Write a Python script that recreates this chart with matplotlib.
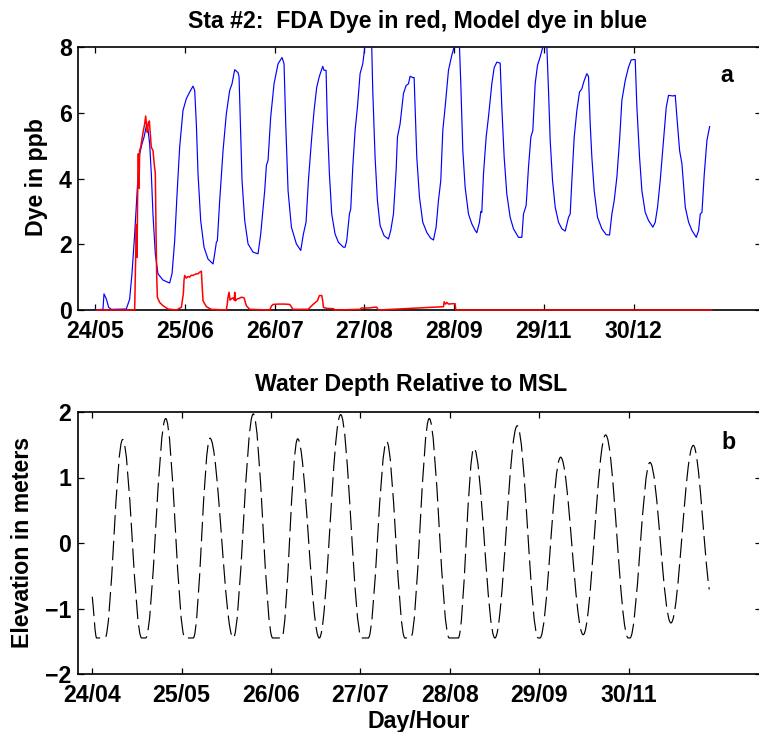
import matplotlib
matplotlib.use("Agg")
import matplotlib.pyplot as plt
from matplotlib.path import Path
from matplotlib.patches import PathPatch

# ---------------- data (hours after first tick) ----------------
blue_hours = [-0.7, 2.14, 2.42, 3.07, 3.72, 4.46, 8.64, 9.57, 10.22, 10.97, 11.71, 12.36, 13.01, 13.57,
              14.22, 14.68, 15.15, 15.61, 16.08, 16.73, 17.47, 18.87, 20.72, 21.38, 22.12, 22.77, 23.51,
              24.44, 25.37, 26.30, 27.23, 27.70, 28.16, 28.63, 29.37, 30.30, 31.41, 32.81, 33.27, 33.74,
              34.02, 34.67, 35.60, 36.52, 37.45, 38.10, 38.85, 39.78, 40.06, 40.43, 40.89, 41.64, 42.57,
              43.96, 45.35, 46.10, 47.21, 47.68, 48.14, 48.88, 49.81, 50.93, 52.04, 52.60, 53.07, 53.72,
              54.65, 56.04, 57.25, 57.99, 58.73, 59.39, 60.32, 60.97, 61.71, 62.45, 63.38, 63.75, 64.31,
              64.68, 65.24, 65.89, 66.82, 67.75, 69.14, 69.61, 70.07, 70.82, 71.19, 71.75, 72.40, 73.05,
              73.79, 74.54, 75.00, 75.28, 76.02, 76.77, 77.04, 77.32, 77.97, 78.62, 79.37, 80.48, 81.69,
              82.34, 83.09, 83.83, 84.20, 84.94, 85.87, 86.62, 87.27, 87.73, 88.48, 88.85, 89.13, 89.59,
              90.34, 91.26, 92.38, 93.49, 94.24, 94.98, 95.63, 96.28, 96.84, 97.49, 98.42, 99.35, 100.00,
              100.56, 101.12, 101.49, 101.86, 102.42, 103.07, 104.00, 104.93, 105.86, 106.32, 107.06,
              107.43, 107.71, 108.18, 108.92, 109.57, 110.50, 111.15, 111.90, 112.83, 113.29, 113.94,
              114.68, 115.61, 116.54, 117.94, 118.87, 119.33, 120.07, 120.72, 121.38, 121.93, 122.58,
              123.23, 123.98, 124.72, 125.28, 125.84, 126.30, 126.77, 127.42, 128.16, 129.09, 130.02,
              130.95, 131.88, 132.34, 132.81, 133.46, 134.20, 134.94, 135.59, 136.25, 136.99, 137.45,
              137.92, 138.38, 139.03, 139.96, 141.17, 142.38, 143.31, 143.96, 144.61, 145.35, 146.10,
              146.75, 147.68, 148.61, 149.35, 150.46, 150.93, 151.67, 152.32, 153.25, 154.18, 155.39,
              156.04, 156.69, 157.43, 158.36, 159.11, 159.76, 160.97, 161.62, 162.08, 162.83, 163.48,
              164.41, 165.34, 166.27, 167.48, 168.13, 168.59, 169.06, 169.71, 170.45, 171.20]
blue_ppb = [0.0, 0.02, 0.49, 0.34, 0.08, 0.02, 0.03, 0.33, 1.1, 2.3, 3.7, 4.75, 5.05, 5.25,
            5.6, 5.5, 5.05, 4.15, 2.9, 1.7, 1.1, 0.91, 0.82, 1.1, 2.1, 3.5, 4.95,
            6.07, 6.43, 6.63, 6.81, 6.68, 5.66, 4.14, 2.72, 1.91, 1.55, 1.40, 1.71, 2.06,
            2.11, 3.33, 4.85, 5.97, 6.68, 6.88, 7.31, 7.22, 7.1, 5.66, 3.94, 2.72, 2.01,
            1.76, 1.71, 2.31, 3.63, 4.40, 4.55, 5.87, 6.88, 7.49, 7.68, 7.49, 5.66, 3.63,
            2.52, 2.01, 1.81, 2.31, 2.67, 3.94, 5.26, 6.07, 6.78, 7.11, 7.41, 7.29, 7.29,
            5.66, 4.14, 2.92, 2.31, 2.06, 1.91, 1.91, 2.11, 2.92, 3.08, 4.34, 5.46, 6.17,
            7.19, 7.49, 7.9, 8.3, 8.6, 8.4, 8.0, 6.68, 4.65, 3.33, 2.57, 2.26, 2.16,
            2.42, 2.92, 4.24, 5.26, 5.66, 6.58, 6.83, 6.88, 7.11, 7.07, 7.07, 6.17, 4.65,
            3.43, 2.67, 2.36, 2.18, 2.13, 2.52, 3.33, 3.94, 5.46, 6.17, 7.29, 7.75, 8.0,
            8.4, 8.4, 8.0, 6.88, 4.85, 3.73, 2.92, 2.62, 2.42, 2.35, 2.67,
            3.0, 2.97, 4.14, 5.26, 5.87, 6.88, 7.37, 7.54, 7.51, 6.17, 4.65,
            3.53, 2.82, 2.47, 2.21, 2.21, 2.92, 3.18, 4.34, 5.26, 5.46, 6.88,
            7.44, 7.70, 8.0, 8.3, 8.0, 6.68, 5.16, 3.94, 3.13, 2.67, 2.47,
            2.40, 2.82, 2.92, 3.94, 5.26, 6.07, 6.63, 6.73, 6.98, 7.19, 7.1,
            5.66, 4.65, 3.63, 2.82, 2.47, 2.29, 2.28, 2.92, 3.33, 4.04, 5.16,
            6.38, 6.98, 7.39, 7.61, 7.62, 6.17, 4.65, 3.63, 2.97, 2.72, 2.52,
            2.67, 3.13, 3.94, 5.16, 6.17, 6.53, 6.51, 6.53, 5.87, 4.85, 4.45,
            3.13, 2.67, 2.42, 2.21, 2.42, 2.92, 2.97, 4.14, 5.16, 5.58]

red_hours = [0.2, 10.97, 11.25, 11.43, 11.62, 11.80, 11.99, 12.18, 12.36, 12.64, 13.01, 13.38, 13.75,
             14.03, 14.31, 14.50, 14.78, 15.06, 15.33, 15.61, 16.08, 16.36, 16.73, 16.91, 17.10, 17.29,
             17.94, 18.87, 20.26, 22.58, 23.98, 24.54, 24.72, 24.91, 25.37, 25.84, 26.30, 26.77, 27.23,
             27.70, 28.16, 28.63, 29.09, 29.56, 29.74, 30.02, 30.95, 32.34, 36.52, 36.80, 36.99, 37.27,
             37.55, 37.92, 38.38, 38.76, 38.85, 39.03, 39.59, 40.24, 40.71, 41.45, 42.10, 43.03, 48.61,
             49.07, 49.54, 50.93, 52.79, 54.18, 55.11, 59.30, 59.85, 60.78, 61.90, 62.45, 63.11, 63.38,
             63.57, 64.50, 66.36, 66.82, 73.79, 74.16, 76.02, 78.35, 78.91, 97.03, 97.22, 97.59, 97.96,
             98.42, 99.35, 100.28, 100.47, 171.8]
red_ppb = [0.0, 0.0, 1.6, 2.6, 1.6, 3.5, 4.75, 3.7, 4.85, 4.95, 5.2, 5.45, 5.65,
           5.9, 5.6, 5.4, 5.7, 5.75, 5.35, 4.95, 4.85, 4.5, 4.15, 2.5, 1.1, 0.39,
           0.23, 0.13, 0.03, 0.0, 0.08, 0.5, 0.9, 1.05, 0.97, 1.02, 1.0, 1.06, 1.05,
           1.08, 1.1, 1.1, 1.15, 1.18, 0.8, 0.28, 0.1, 0.02, 0.0, 0.2, 0.39, 0.54,
           0.3, 0.34, 0.37, 0.3, 0.54, 0.28, 0.34, 0.36, 0.39, 0.37, 0.13, 0.02, 0.0,
           0.12, 0.17, 0.18, 0.18, 0.17, 0.02, 0.02, 0.08, 0.18, 0.28, 0.44, 0.44, 0.28,
           0.08, 0.05, 0.04, 0.0, 0.02, 0.06, 0.06, 0.09, 0.0, 0.1, 0.25, 0.18, 0.23,
           0.18, 0.19, 0.19, 0.0, 0.0]

# tide: turning points (and the ends of flat, clipped troughs)
tide_hours = [0.0, 1.23, 3.55, 8.50, 13.81, 14.93, 20.53, 25.92, 28.24, 32.91, 39.43, 45.02, 50.45,
              52.96, 57.44, 63.48, 69.46, 75.34, 77.18, 82.33, 87.44, 89.04, 94.24, 99.83, 102.35,
              106.74, 112.61, 118.85, 124.72, 125.19, 130.98, 137.30, 143.57, 149.89, 150.36, 155.96,
              161.83, 168.07, 172.54]
tide_elev = [-0.82, -1.45, -1.45, 1.58, -1.45, -1.45, 1.90, -1.45, -1.45, 1.60, -1.45, 1.97, -1.45,
             -1.45, 1.59, -1.45, 1.96, -1.45, -1.45, 1.55, -1.45, -1.45, 1.90, -1.45, -1.45,
             1.45, -1.45, 1.79, -1.45, -1.45, 1.31, -1.40, 1.65, -1.45, -1.45, 1.23,
             -1.22, 1.49, -0.71]

tick_hours = [0, 25, 50, 75, 100, 125, 150]
top_labels = ["24/05", "25/06", "26/07", "27/08", "28/09", "29/11", "30/12"]
bottom_labels = ["24/04", "25/05", "26/06", "27/07", "28/08", "29/09", "30/11"]

assert len(blue_hours) == len(blue_ppb)
assert len(red_hours) == len(red_ppb)
assert len(tide_hours) == len(tide_elev)

# ---------------- style ----------------
plt.rcParams.update({
    "font.family": ["Liberation Sans", "DejaVu Sans"],
    "font.weight": "bold",
    "font.size": 16.7,
    "lines.scale_dashes": False,
    "axes.linewidth": 1.2,
    "xtick.direction": "in", "ytick.direction": "in",
    "xtick.top": True, "ytick.right": True,
    "xtick.major.size": 4.1, "ytick.major.size": 4.1,
    "xtick.major.width": 0.9, "ytick.major.width": 0.9,
})

W, H = 759, 732
fig = plt.figure(figsize=(W / 100, H / 100), dpi=100)


def px_rect(l, t, r, b):
    return [l / W, 1 - b / H, (r - l) / W, (b - t) / H]


ax1 = fig.add_axes(px_rect(78, 47, 761.3, 310))
ax2 = fig.add_axes(px_rect(77.7, 412, 761.3, 674))

# ---------------- panel a ----------------
ax1.plot(blue_hours, blue_ppb, color="#0000ff", lw=0.85, zorder=3)
ax1.plot(red_hours, red_ppb, color="#ff0000", lw=1.1, zorder=3.1, clip_on=False)
ax1.set_xlim(-4.82, 185.6)
ax1.set_ylim(0, 8)
ax1.set_xticks(tick_hours, top_labels)
ax1.set_yticks([0, 2, 4, 6, 8])
ax1.tick_params(axis="x", pad=7)
ax1.tick_params(axis="y", pad=4.5)

# ---------------- panel b ----------------
verts = [(tide_hours[0], tide_elev[0])]
codes = [Path.MOVETO]
n = len(tide_hours)
for i in range(1, n):
    t0, v0 = tide_hours[i - 1], tide_elev[i - 1]
    t1, v1 = tide_hours[i], tide_elev[i]
    if v0 == v1:
        verts.append((t1, v1))
        codes.append(Path.LINETO)
        continue
    d = t1 - t0
    k = 0.364
    if i == 1:
        c1 = (t0 + d / 3, v0 + (v1 - v0) / 3)
    else:
        c1 = (t0 + k * d, v0)
    if i == n - 1:
        c2 = (t1 - d / 3, v1 - (v1 - v0) / 4)
    else:
        c2 = (t1 - k * d, v1)
    verts += [c1, c2, (t1, v1)]
    codes += [Path.CURVE4, Path.CURVE4, Path.CURVE4]

tide_patch = PathPatch(Path(verts, codes), fill=False, edgecolor="black",
                       lw=0.85, linestyle=(0, (14, 4.5)), zorder=3)
ax2.add_patch(tide_patch)
ax2.set_xlim(-4.08, 187.1)
ax2.set_ylim(-2, 2)
ax2.set_xticks(tick_hours, bottom_labels)
ax2.set_yticks([-2, -1, 0, 1, 2])
ax2.tick_params(axis="x", pad=7)
ax2.tick_params(axis="y", pad=4.5)

# ---------------- texts ----------------
fig.text(417.5 / W, 1 - 27.7 / H, "Sta #2:  FDA Dye in red, Model dye in blue",
         ha="center", va="baseline", fontsize=16.7, fontweight="bold")
fig.text(411 / W, 1 - 390.7 / H, "Water Depth Relative to MSL",
         ha="center", va="baseline", fontsize=16.7, fontweight="bold")
fig.text(418.5 / W, 1 - 728 / H, "Day/Hour",
         ha="center", va="baseline", fontsize=16.7, fontweight="bold")
fig.text(37 / W, 1 - 177 / H, "Dye in ppb", rotation=90,
         ha="center", va="center", fontsize=16.7, fontweight="bold")
fig.text(23 / W, 1 - 542 / H, "Elevation in meters", rotation=90,
         ha="center", va="center", fontsize=16.7, fontweight="bold")
fig.text(727 / W, 1 - 82.3 / H, "a", ha="center", va="baseline",
         fontsize=16.7, fontweight="bold")
fig.text(729 / W, 1 - 449.3 / H, "b", ha="center", va="baseline",
         fontsize=16.7, fontweight="bold")

fig.savefig("out.png", dpi=100)
